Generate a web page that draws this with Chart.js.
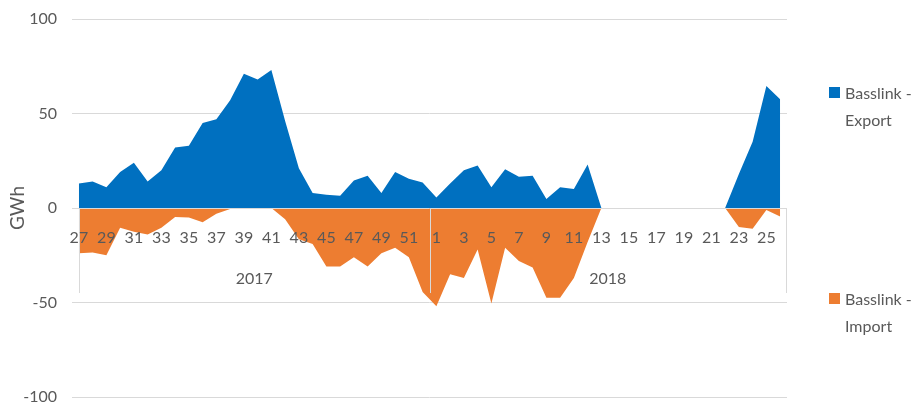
<!DOCTYPE html>
<html>
<head>
<meta charset="utf-8">
<script src="https://cdn.jsdelivr.net/npm/chart.js@4.4.1/dist/chart.umd.min.js"></script>
<style>
    body { margin: 0; background: #fff; }
    #wrap { position: relative; width: 915px; height: 408px; overflow: hidden; }
    .leg { position: absolute; left: 829px; font-family: Lato, sans-serif; font-size: 16px; color: #595959; line-height: 27px; }
    .leg span.box { position: absolute; left: 0; top: 8px; width: 11px; height: 11px; }
    .leg div { padding-left: 16px; white-space: nowrap; }
</style>
</head>
<body>
<div id="wrap">
    <canvas id="myChart" width="915" height="408"></canvas>
    <div class="leg" style="top: 79px;"><span class="box" style="background:#0070C0"></span><div>Basslink -</div><div>Export</div></div>
    <div class="leg" style="top: 285px;"><span class="box" style="background:#ED7D31"></span><div>Basslink -</div><div>Import</div></div>
</div>
<script>
// Weeks: 2017 wk 27-52, 2018 wk 1-26
const weeks2017 = [27, 28, 29, 30, 31, 32, 33, 34, 35, 36, 37, 38, 39, 40, 41, 42, 43, 44, 45, 46, 47, 48, 49, 50, 51, 52];
const weeks2018 = [1, 2, 3, 4, 5, 6, 7, 8, 9, 10, 11, 12, 13, 14, 15, 16, 17, 18, 19, 20, 21, 22, 23, 24, 25, 26];
const years = ['2017', '2018'];
const yTicks = [-100, -50, 0, 50, 100];

const exportGWh = [13, 14, 11, 19, 24, 14, 20, 32, 33, 45, 47, 57, 71, 68, 73, 46, 21, 8, 7, 6.5, 14.5, 17, 8, 19, 15.5, 13.5,
    5.5, 13, 20, 22.5, 11, 20.5, 16.5, 17, 4.7, 11, 10, 23, 0, 0, 0, 0, 0, 0, 0, 0, 0, 0, 18, 35, 64.5, 57.5];
const importGWh = [-24, -23.5, -25, -10.5, -12.5, -14, -10.5, -4.7, -5, -7.5, -3, -0.5, 0, 0, 0, -6, -16.5, -19, -31, -31, -26, -31, -24, -21, -26, -44.5,
    -52, -35, -37, -22, -50.5, -21, -28, -31.5, -47.5, -47.5, -37, -18, 0, 0, 0, 0, 0, 0, 0, 0, 0, 0, -10, -11, -1, -4.5];

const labels = weeks2017.concat(weeks2018).map(String);
const txt = '#595959';
const grid = '#d9d9d9';

const axisBox = {
    id: 'axisBox',
    afterDatasetsDraw(chart) {
        const ctx = chart.ctx;
        const x = chart.scales.x, y = chart.scales.y;
        const y0 = y.getPixelForValue(0);
        const xl = x.getPixelForValue(0);
        const xs = (x.getPixelForValue(weeks2017.length - 1) + x.getPixelForValue(weeks2017.length)) / 2;
        const xr = chart.chartArea.right - 1;
        ctx.save();
        ctx.strokeStyle = grid;
        ctx.lineWidth = 1;
        ctx.beginPath();
        ctx.moveTo(chart.chartArea.left, Math.round(y0) + 0.5);
        ctx.lineTo(chart.chartArea.right, Math.round(y0) + 0.5);
        [xl, xs, xr].forEach(px => {
            ctx.moveTo(Math.round(px) + 0.5, y0);
            ctx.lineTo(Math.round(px) + 0.5, y0 + 85);
        });
        ctx.stroke();
        ctx.fillStyle = txt;
        ctx.font = '16px Lato, sans-serif';
        ctx.textAlign = 'center';
        ctx.textBaseline = 'middle';
        ctx.fillText(years[0], (xl + xs) / 2, y0 + 71);
        ctx.fillText(years[1], (xs + xr) / 2, y0 + 71);
        ctx.restore();
    }
};

const myChart = new Chart(document.getElementById('myChart'), {
    type: 'line',
    data: {
        labels: labels,
        datasets: [{
            label: 'Basslink - Export',
            data: exportGWh,
            backgroundColor: '#0070C0',
            borderWidth: 0,
            pointRadius: 0,
            fill: 'origin',
            tension: 0
        }, {
            label: 'Basslink - Import',
            data: importGWh,
            backgroundColor: '#ED7D31',
            borderWidth: 0,
            pointRadius: 0,
            fill: 'origin',
            tension: 0
        }]
    },
    options: {
        responsive: false,
        animation: false,
        layout: { padding: { top: 19, bottom: 11, left: 0, right: 128 } },
        plugins: {
            legend: { display: false },
            tooltip: { enabled: false }
        },
        scales: {
            x: {
                position: { y: 0 },
                offset: true,
                afterFit: s => { s.height = 0; },
                grid: { display: false },
                border: { display: false },
                ticks: {
                    z: 1,
                    autoSkip: false,
                    maxRotation: 0,
                    padding: 12,
                    color: txt,
                    font: { family: 'Lato', size: 16 },
                    callback: (v, i) => (i % 2 === 0 ? labels[i] : '')
                }
            },
            y: {
                min: -100,
                max: 100,
                afterFit: s => { s.width = 72; },
                afterBuildTicks: s => { s.ticks = yTicks.map(v => ({ value: v })); },
                grid: { color: grid, drawTicks: true, tickLength: 15, tickColor: 'rgba(0,0,0,0)' },
                border: { display: false },
                ticks: {
                    padding: 0,
                    color: txt,
                    font: { family: 'Lato', size: 16 }
                },
                title: {
                    display: true,
                    text: 'GWh',
                    color: txt,
                    font: { family: 'Lato', size: 19 },
                    padding: { top: 6, bottom: 0 }
                }
            }
        }
    },
    plugins: [axisBox]
});
</script>
</body>
</html>
